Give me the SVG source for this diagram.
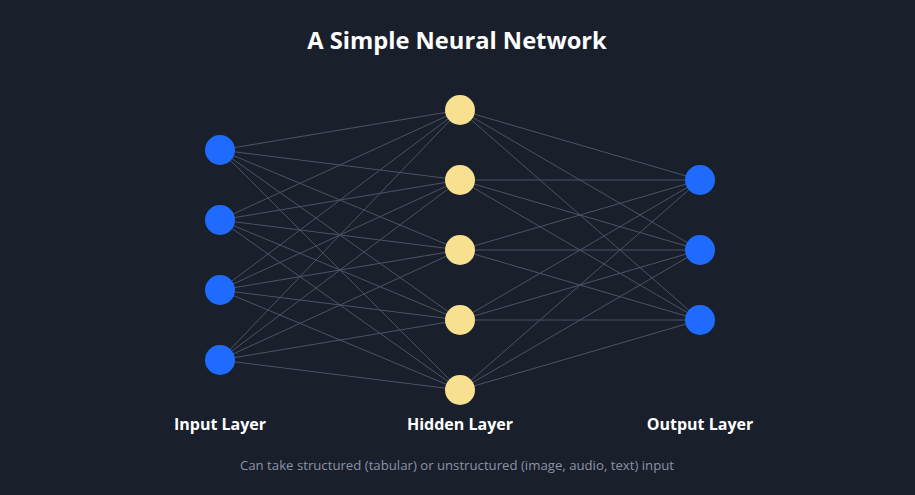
<svg xmlns="http://www.w3.org/2000/svg" width="915" height="495" viewBox="0 0 915 495">
<style>
.e{stroke:#4b5366;stroke-width:1}
.in{fill:#1f6bff}.hd{fill:#f7e08f}
.t{font-family:"Open Sans","Noto Sans",sans-serif;fill:#fff;font-weight:bold;text-anchor:middle}
</style>
<rect width="915" height="495" fill="#1a1f2c"/>
<text class="t" x="457" y="49" font-size="23.7">A Simple Neural Network</text>
<g id="connectors">
<path class="e" d="M220 150L460 110M220 150L460 180M220 150L460 250M220 150L460 320M220 150L460 390
M220 220L460 110M220 220L460 180M220 220L460 250M220 220L460 320M220 220L460 390
M220 290L460 110M220 290L460 180M220 290L460 250M220 290L460 320M220 290L460 390
M220 360L460 110M220 360L460 180M220 360L460 250M220 360L460 320M220 360L460 390
M460 110L700 180M460 110L700 250M460 110L700 320
M460 180L700 180M460 180L700 250M460 180L700 320
M460 250L700 180M460 250L700 250M460 250L700 320
M460 320L700 180M460 320L700 250M460 320L700 320
M460 390L700 180M460 390L700 250M460 390L700 320"/>
</g>
<g id="i1"><circle class="in" cx="220" cy="150" r="15"/></g>
<g id="i2"><circle class="in" cx="220" cy="220" r="15"/></g>
<g id="i3"><circle class="in" cx="220" cy="290" r="15"/></g>
<g id="i4"><circle class="in" cx="220" cy="360" r="15"/></g>
<g id="h1"><circle class="hd" cx="460" cy="110" r="15"/></g>
<g id="h2"><circle class="hd" cx="460" cy="180" r="15"/></g>
<g id="h3"><circle class="hd" cx="460" cy="250" r="15"/></g>
<g id="h4"><circle class="hd" cx="460" cy="320" r="15"/></g>
<g id="h5"><circle class="hd" cx="460" cy="390" r="15"/></g>
<g id="o1"><circle class="in" cx="700" cy="180" r="15"/></g>
<g id="o2"><circle class="in" cx="700" cy="250" r="15"/></g>
<g id="o3"><circle class="in" cx="700" cy="320" r="15"/></g>
<text class="t" x="220" y="430" font-size="16">Input Layer</text>
<text class="t" x="460" y="430" font-size="16">Hidden Layer</text>
<text class="t" x="700" y="430" font-size="16">Output Layer</text>
<text x="457" y="470" font-size="13.2" fill="#8b93a6" text-anchor="middle" font-family="'Open Sans','Noto Sans',sans-serif">Can take structured (tabular) or unstructured (image, audio, text) input</text>
</svg>
